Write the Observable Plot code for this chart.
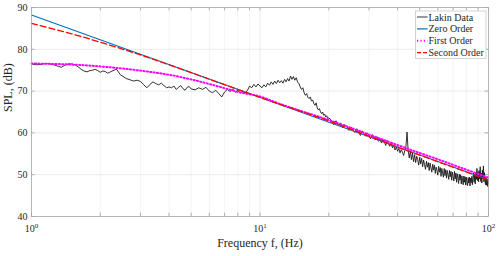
<!DOCTYPE html>
<html><head><meta charset="utf-8">
<script src="https://cdn.jsdelivr.net/npm/d3@7"></script>
<script src="https://cdn.jsdelivr.net/npm/@observablehq/plot@0.6"></script>
<style>
html,body{margin:0;padding:0;background:#fff;}
#chart{width:500px;height:256px;}
</style></head>
<body><div id="chart"></div>
<script>
// ---- Lakin measured data (segments of uniform frequency step) ----
const lakinSeg1Start = 1.0, lakinSeg1Step = 0.05;
const lakinSeg1 = [76.5,76.3,76.4,76.6,76.5,76.3,76.0,75.7,76.2,76.5,76.5,76.3,75.8,75.2,74.8,74.6,74.9,75.0,75.2,74.9,74.5,74.8,74.7,74.3,74.5,74.8,75.0,75.3,74.6,73.9,73.6];
const lakinSeg2Start = 2.6, lakinSeg2Step = 0.1;
const lakinSeg2 = [73.0,72.7,72.4,72.6,72.3,71.5,70.8,71.6,72.2,71.8,71.5,71.9,71.3,70.8,71.0,70.8,71.2,70.4,70.9,71.3,70.6,70.2,70.9,71.1,70.5];
const lakinSeg3Start = 5.2, lakinSeg3Step = 0.2;
const lakinSeg3 = [70.3,70.8,70.4,70.9,70.0,69.6,70.2,69.4,68.6,69.8,70.4,69.9,70.5,69.7,70.2,69.5,70.0,69.6,70.1,71.2,70.8,71.6,71.0,71.7,71.2,
  70.8,71.5,71.0,71.9,71.4,72.2,71.6,72.4,71.8,72.6,72.0,72.5,71.9,72.8,72.2,73.0,72.4,73.6,72.8,73.5,72.6,73.2,72.2,71.8,71.0,
  70.4,70.8,69.6,69.0,69.4,68.5,68.2,68.6,67.6,67.9,67.0,66.6,67.2,66.0,65.5,65.8,65.0,64.6,65.0,64.2,64.5,63.8,64.1,63.4,63.6];
const lakinSeg4Start = 20.5, lakinSeg4Step = 0.5;
const lakinSeg4 = [63.1,62.0,62.9,61.8,62.4,61.2,62.0,61.5,60.6,61.4,60.8,60.1,61.0,60.2,59.4,60.5,59.8,59.2,60.0,59.3,
  58.6,59.6,58.9,58.3,59.1,58.0,58.7,57.6,58.4,57.9,57.0,58.2,57.3,56.8,57.6,56.4,57.1,55.9,56.7,55.6,
  56.3,55.2,56.0,55.4,54.6,55.7,56.6,60.2,
  55.8,54.0,55.6,53.6,55.2,53.1,54.8,52.9,54.4,53.6,52.3,54.2,52.6,53.9,51.9,53.5,52.4,51.3,53.2,51.8,
  52.9,51.0,52.8,51.6,50.6,52.5,51.1,52.3,50.3,51.8,51.0,49.9,52.0,50.6,51.7,49.6,51.5,50.4,49.4,51.5,
  49.8,51.2,49.2,51.0,50.0,48.9,51.0,49.5,50.8,48.7,50.6,49.6,48.5,50.8,49.0,50.4,48.2,50.2,49.2,47.9,
  50.1,48.7,50.0,47.8,49.7,48.6,47.6,49.7,48.2,49.5,47.5,49.4,48.3,47.4,49.3,48.0,49.4,47.3,49.2,48.1,
  49.6,47.6,49.4,50.4,48.2,49.9,47.8,50.6,48.9,51.5,48.6,50.7,48.3,51.0,49.0,51.9,48.4,50.4,48.0,51.1,
  49.0,52.1,48.3,50.5,48.6,47.6,49.4,47.5,48.8,47.2,48.5,47.8];

// ---- Model fits ----
const zeroFreq = [1, 100];
const zeroDb   = [88.2, 48.8];
const firstFreq = [1,1.25,1.5,1.75,2,2.5,3,3.5,4,5,6,7,8,10,12,15,20,25,30,40,50,60,70,80,100];
const firstDb   = [76.6,76.5,76.35,76.15,75.9,75.4,74.9,74.4,73.9,72.8,71.7,70.7,69.8,68.7,67.1,65.3,63.1,61.2,59.6,57.1,55.2,53.7,52.35,51.2,49.3];
const secondFreq = [1,1.25,1.5,1.75,2,2.5,3,4,5,7,10,20,40,70,100];
const secondDb   = [86.2,84.85,83.7,82.65,81.7,80.05,78.65,76.3,74.4,71.55,68.5,62.85,56.6,51.8,48.7];

const yTicks = [40,50,60,70,80,90];
const xMajor = [1,10,100];
const xMinor = [2,3,4,5,6,7,8,9,20,30,40,50,60,70,80,90];
const seriesNames = ["Lakin Data","Zero Order","First Order","Second Order"];
const seriesColors = ["#1a1a1a","#0072BD","#FF00FF","#FF0000"];

const segs = [
  [lakinSeg1Start, lakinSeg1Step, lakinSeg1],
  [lakinSeg2Start, lakinSeg2Step, lakinSeg2],
  [lakinSeg3Start, lakinSeg3Step, lakinSeg3],
  [lakinSeg4Start, lakinSeg4Step, lakinSeg4]
];
const lakin = segs.flatMap(([s, st, vals]) => vals.map((v, i) => ({f: +(s + i*st).toFixed(3), db: v})));
const zero = zeroFreq.map((f,i) => ({f, db: zeroDb[i]}));
const first = firstFreq.map((f,i) => ({f, db: firstDb[i]}));
const second = secondFreq.map((f,i) => ({f, db: secondDb[i]}));

const serif = "'Liberation Serif','Times New Roman',Times,serif";
const tickCol = "#9a9a9a";

const chart = Plot.plot({
  width: 500, height: 256,
  marginLeft: 31, marginRight: 12, marginTop: 7, marginBottom: 40,
  style: {fontFamily: serif, fontSize: "10px", color: "#262626", background: "#fff"},
  x: {type: "log", domain: [1, 100]},
  y: {domain: [40, 90]},
  marks: [
    Plot.ruleX(xMinor, {stroke: "#f1f1f1", strokeWidth: 0.8}),
    Plot.ruleX(xMajor, {stroke: "#e6e6e6", strokeWidth: 0.8}),
    Plot.ruleY(yTicks, {stroke: "#e6e6e6", strokeWidth: 0.8}),
    // inward tick marks
    Plot.ruleX(xMinor.concat(xMajor), {y1: 40, y2: 40.8, stroke: tickCol, strokeWidth: 0.8}),
    Plot.ruleX(xMinor.concat(xMajor), {y1: 89.2, y2: 90, stroke: tickCol, strokeWidth: 0.8}),
    Plot.ruleY(yTicks, {x1: 1, x2: 1.035, stroke: tickCol, strokeWidth: 0.8}),
    Plot.ruleY(yTicks, {x1: 96.6, x2: 100, stroke: tickCol, strokeWidth: 0.8}),
    Plot.line(lakin, {x: "f", y: "db", stroke: seriesColors[0], strokeWidth: 0.9}),
    Plot.line(zero, {x: "f", y: "db", stroke: seriesColors[1], strokeWidth: 1.2}),
    Plot.line(first, {x: "f", y: "db", stroke: seriesColors[2], strokeWidth: 2, strokeDasharray: "1.2,2.2", curve: "monotone-x"}),
    Plot.line(second, {x: "f", y: "db", stroke: seriesColors[3], strokeWidth: 1.3, strokeDasharray: "6,3", curve: "monotone-x"}),
    Plot.frame({stroke: "#a8a8a8", strokeWidth: 0.8}),
    Plot.axisY(yTicks, {tickSize: 0, tickPadding: 4, label: null, fontSize: 10}),
    Plot.axisX(xMajor, {tickSize: 0, tickPadding: 8, label: null, fontSize: 10,
      tickFormat: d => "10^" + Math.round(Math.log10(d))}),
    Plot.text(["SPL, (dB)"], {frameAnchor: "left", dx: -23, rotate: -90, fontSize: 12, fill: "#262626"}),
    Plot.text(["Frequency f, (Hz)"], {frameAnchor: "bottom", dy: 30, fontSize: 12, fill: "#262626"})
  ]
});

document.getElementById("chart").appendChild(chart);
const svg = d3.select(chart);

// superscript exponents on x tick labels
svg.selectAll('g[aria-label="x-axis tick label"] text').each(function() {
  const t = d3.select(this);
  const parts = t.text().split("^");
  t.text(null);
  t.append("tspan").text(parts[0]);
  t.append("tspan").attr("font-size", 7).attr("dy", "-0.5em").text(parts[1]);
});

// legend (inside the plot, top-right)
const lg = svg.append("g").attr("font-family", serif).attr("font-size", 10).attr("text-anchor", "start");
lg.append("rect").attr("x", 415.5).attr("y", 11).attr("width", 70.5).attr("height", 47.5)
  .attr("fill", "#fff").attr("stroke", "#c8c8c8").attr("stroke-width", 0.8);
const dashes = [null, null, "1.2,2.2", "4,2"];
const widths = [1.2, 1.2, 2, 1.3];
seriesNames.forEach((name, i) => {
  const yy = 17 + i * 11.9;
  lg.append("line").attr("x1", 417).attr("x2", 427.5).attr("y1", yy).attr("y2", yy)
    .attr("stroke", i === 0 ? "#555" : seriesColors[i]).attr("stroke-width", widths[i])
    .attr("stroke-dasharray", dashes[i]);
  lg.append("text").attr("x", 428.5).attr("y", yy).attr("dy", "0.35em").attr("fill", "#262626").text(name);
});
</script>
</body></html>
